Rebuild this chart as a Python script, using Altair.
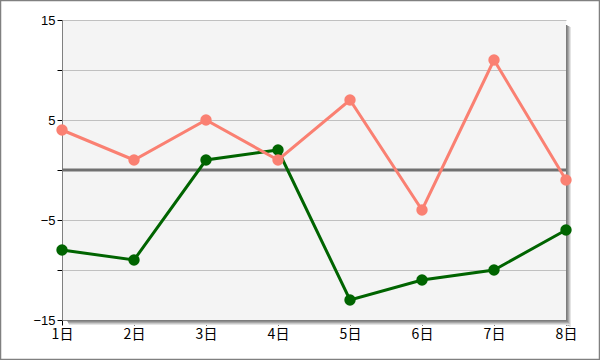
import altair as alt
import pandas as pd

days = ["1日", "2日", "3日", "4日", "5日", "6日", "7日", "8日"]
salmon_vals = [4, 1, 5, 1, 7, -4, 11, -1]
green_vals = [-8, -9, 1, 2, -13, -11, -10, -6]

rows = []
for name, vals in [("green", green_vals), ("salmon", salmon_vals)]:
    for d, v in zip(days, vals):
        rows.append({"day": d, "value": v, "series": name})
df = pd.DataFrame(rows)

W, H = 504, 300

xenc = alt.X("day:O", sort=days, scale=alt.Scale(type="point", padding=0),
             axis=alt.Axis(title=None, labelAngle=0, domain=True, domainColor="#808080",
                           tickColor="#000000", tickSize=5, labelFont="Noto Sans CJK JP",
                           labelFontSize=14, labelColor="#000000", labelPadding=2, grid=False))
yenc = alt.Y("value:Q", scale=alt.Scale(domain=[-15, 15], nice=False, zero=False),
             axis=alt.Axis(title=None, values=[-15, -10, -5, 0, 5, 10, 15],
                           labelExpr="datum.value % 10 == 0 ? '' : datum.label",
                           domainColor="#808080", tickColor="#000000", tickSize=5,
                           labelFont="Liberation Sans", labelFontSize=13, labelColor="#000000",
                           labelPadding=2, grid=True, gridColor="#c0c0c0", gridWidth=1))

one = pd.DataFrame({"a": [0]})
strips = []
for i, c in enumerate(["#7c7c7c", "#8e8e8e", "#a8a8a8", "#c8c8c8", "#e4e4e4"]):
    strips.append(alt.Chart(one).mark_rect(color=c).encode(
        x=alt.value(W + i), x2=alt.value(W + i + 1), y=alt.value(5 + i * 0.5), y2=alt.value(H + 5 - i * 0.5 + i)))
    strips.append(alt.Chart(one).mark_rect(color=c).encode(
        x=alt.value(5 + i * 0.5), x2=alt.value(W + i), y=alt.value(H + i), y2=alt.value(H + i + 1)))

border = alt.Chart(one).mark_rect(fill=None, stroke="#808080", strokeWidth=1.5).encode(
    x=alt.value(-61.5), x2=alt.value(537.5), y=alt.value(-19.5), y2=alt.value(339.5))

zero_rule = alt.Chart(pd.DataFrame({"v": [0]})).mark_rule(color="#707070", strokeWidth=3).encode(
    y=alt.Y("v:Q", scale=alt.Scale(domain=[-15, 15], nice=False)))

base = alt.Chart(df)
green_layer = alt.layer(
    base.transform_filter("datum.series == 'green'").mark_line(strokeWidth=3, color="#006400").encode(x=xenc, y=yenc),
    base.transform_filter("datum.series == 'green'").mark_circle(size=130, opacity=1, color="#006400").encode(x=xenc, y=yenc),
)
salmon_layer = alt.layer(
    base.transform_filter("datum.series == 'salmon'").mark_line(strokeWidth=3, color="#FA8072").encode(x=xenc, y=yenc),
    base.transform_filter("datum.series == 'salmon'").mark_circle(size=130, opacity=1, color="#FA8072").encode(x=xenc, y=yenc),
)

chart = alt.layer(
    zero_rule, *strips, green_layer, salmon_layer, border
).properties(
    width=W, height=H,
    autosize=alt.AutoSizeParams(type="none"),
    padding={"left": 62, "top": 20, "right": 34, "bottom": 40},
    background="#ffffff",
).configure_view(fill="#f4f4f4", strokeWidth=0)

chart.save("out.html", embed_options={"renderer": "svg", "actions": False})
